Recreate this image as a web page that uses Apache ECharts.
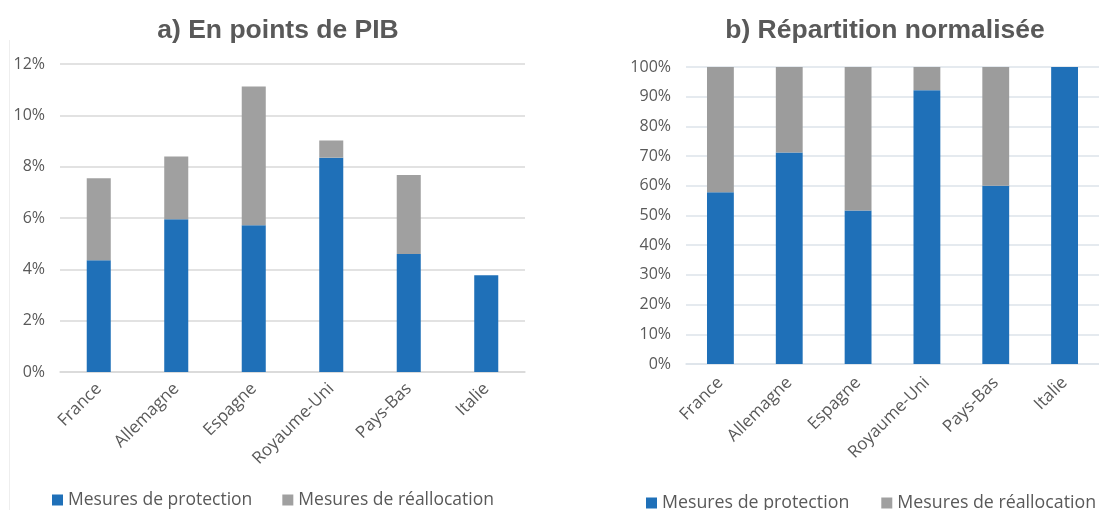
<!DOCTYPE html>
<html>
<head>
<meta charset="utf-8">
<script src="https://cdn.jsdelivr.net/npm/echarts@6/dist/echarts.min.js"></script>
<style>
  html, body { margin: 0; padding: 0; background: #fff; }
  #chart { width: 1099px; height: 510px; }
</style>
</head>
<body>
<div id="chart"></div>
<script>
const categories = ['France', 'Allemagne', 'Espagne', 'Royaume-Uni', 'Pays-Bas', 'Italie']

// a) en points de PIB (%)
const protectionPib = [4.35, 5.95, 5.72, 8.35, 4.6, 3.77]
const reallocationPib = [3.2, 2.45, 5.4, 0.67, 3.08, 0]

// b) répartition normalisée (%)
const protectionShare = [57.8, 71.2, 51.7, 92.2, 60.0, 100]
const reallocationShare = [42.2, 28.8, 48.3, 7.8, 40.0, 0]

const leftTicks = [0, 2, 4, 6, 8, 10, 12]
const rightTicks = [0, 10, 20, 30, 40, 50, 60, 70, 80, 90, 100]

const BLUE = '#1f70b8'
const GRAY = '#a0a0a0'
const TXT = '#595959'
const FONT = '"Open Sans", "Noto Sans", sans-serif'
const TITLE_FONT = '"Liberation Sans", Arial, sans-serif'

const chart = echarts.init(document.getElementById('chart'), null, { renderer: 'canvas' })

const yAxisBase = (ticks, gridColor) => ({
  type: 'value',
  min: ticks[0],
  max: ticks[ticks.length - 1],
  interval: ticks[1] - ticks[0],
  axisLine: { show: false },
  axisTick: { show: false },
  axisLabel: { color: TXT, fontFamily: FONT, fontSize: 16, margin: 15, formatter: v => v + '%' },
  splitLine: { lineStyle: { color: gridColor, width: 1.5 } }
})

const xAxisBase = (gridIndex, lineColor, margin) => ({
  type: 'category',
  gridIndex,
  data: categories,
  axisLine: { lineStyle: { color: lineColor, width: 1.5 } },
  axisTick: { show: false },
  axisLabel: { color: TXT, fontFamily: FONT, fontSize: 17, rotate: 45, margin, interval: 0 }
})

const legendBase = (left, top, size, gap) => ({
  left, top, width: 480, orient: 'horizontal', icon: 'rect', itemWidth: 11, itemHeight: 11, itemGap: gap,
  textStyle: { color: TXT, fontFamily: FONT, fontSize: size },
  data: ['Mesures de protection', 'Mesures de réallocation']
})

const option = {
  backgroundColor: '#fff',
  animation: false,
  title: [
    { text: 'a) En points de PIB', left: 273, top: 12, textAlign: 'center',
      textStyle: { color: TXT, fontFamily: TITLE_FONT, fontWeight: 'bold', fontSize: 26.5 } },
    { text: 'b) Répartition normalisée', left: 880, top: 12, textAlign: 'center',
      textStyle: { color: TXT, fontFamily: TITLE_FONT, fontWeight: 'bold', fontSize: 26.5 } }
  ],
  legend: [
    legendBase(47, 486, 17.5, 30),
    legendBase(641, 489, 17.8, 32)
  ],
  grid: [
    { left: 60, right: 574, top: 64, bottom: 138 },
    { left: 686, right: -3, top: 67, bottom: 146 }
  ],
  xAxis: [
    xAxisBase(0, '#d9d9d9', 14),
    xAxisBase(1, '#dde3ea', 16)
  ],
  yAxis: [
    Object.assign({ gridIndex: 0 }, yAxisBase(leftTicks, '#d9d9d9')),
    Object.assign({ gridIndex: 1 }, yAxisBase(rightTicks, '#dde3ea'))
  ],
  graphic: [
    { type: 'line', shape: { x1: 9.5, y1: 40, x2: 9.5, y2: 510 }, style: { stroke: '#eeeeee', lineWidth: 1 } }
  ],
  series: [
    { name: 'Mesures de protection', type: 'bar', stack: 'a', xAxisIndex: 0, yAxisIndex: 0,
      barWidth: '31%', itemStyle: { color: BLUE }, data: protectionPib },
    { name: 'Mesures de réallocation', type: 'bar', stack: 'a', xAxisIndex: 0, yAxisIndex: 0,
      barWidth: '31%', itemStyle: { color: GRAY }, data: reallocationPib },
    { name: 'Mesures de protection', type: 'bar', stack: 'b', xAxisIndex: 1, yAxisIndex: 1,
      barWidth: '39%', itemStyle: { color: BLUE }, data: protectionShare },
    { name: 'Mesures de réallocation', type: 'bar', stack: 'b', xAxisIndex: 1, yAxisIndex: 1,
      barWidth: '39%', itemStyle: { color: '#9c9c9c' }, data: reallocationShare }
  ]
}

chart.setOption(option)
</script>
</body>
</html>
